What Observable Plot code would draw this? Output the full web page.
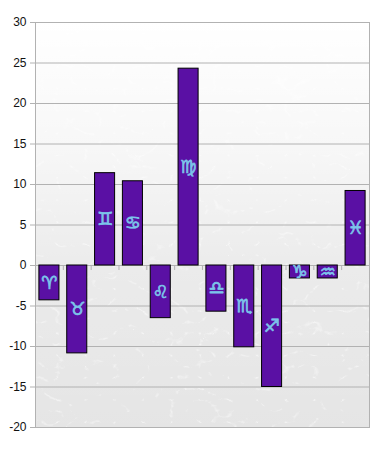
<!DOCTYPE html>
<html>
<head>
<meta charset="utf-8">
<style>html,body{margin:0;padding:0;background:#fff}svg{display:block}</style>
<script src="https://cdn.jsdelivr.net/npm/d3@7"></script>
<script src="https://cdn.jsdelivr.net/npm/@observablehq/plot@0.6"></script>
</head>
<body>
<script>
const signs = ["♈\uFE0E","♉\uFE0E","♊\uFE0E","♋\uFE0E","♌\uFE0E","♍\uFE0E","♎\uFE0E","♏\uFE0E","♐\uFE0E","♑\uFE0E","♒\uFE0E","♓\uFE0E"];
const values = [-4.3,-10.85,11.4,10.4,-6.5,24.3,-5.7,-10.1,-15,-1.6,-1.6,9.2];
const yTicks = [-20,-15,-10,-5,0,5,10,15,20,25,30];
const table = signs.map((sign,i)=>({sign,value:values[i],mid:values[i]/2}));
const grey = "#b2b2b2";

function defs(){
  const d = d3.create("svg:defs");
  const g = d.append("linearGradient").attr("id","fade").attr("x1",0).attr("y1",0).attr("x2",0).attr("y2",1);
  g.append("stop").attr("offset","0").attr("stop-color","#fff").attr("stop-opacity",1);
  g.append("stop").attr("offset","0.3").attr("stop-color","#fff").attr("stop-opacity",0.72);
  g.append("stop").attr("offset","0.62").attr("stop-color","#fff").attr("stop-opacity",0.25);
  g.append("stop").attr("offset","1").attr("stop-color","#fff").attr("stop-opacity",0.05);
  const f = d.append("filter").attr("id","veins").attr("x",0).attr("y",0).attr("width",1).attr("height",1)
    .attr("color-interpolation-filters","sRGB");
  f.append("feTurbulence").attr("type","turbulence").attr("baseFrequency","0.035 0.045").attr("numOctaves",3).attr("seed",11).attr("result","n");
  f.append("feColorMatrix").attr("in","n").attr("type","matrix")
   .attr("values","0 0 0 0 1  0 0 0 0 1  0 0 0 0 1  -8 0 0 0 1");
  f.append("feComponentTransfer").append("feFuncA").attr("type","linear").attr("slope",0.5);
  return d.node();
}
const withFilter = (i,s,v,d,c,next)=>{
  const g = next(i,s,v,d,c);
  d3.select(g).attr("filter","url(#veins)");
  return g;
};

const chart = Plot.plot({
  width:379, height:452,
  marginTop:22, marginBottom:25, marginLeft:35, marginRight:10,
  style:{background:"#fff",fontFamily:"'Liberation Sans',Arial,sans-serif",fontSize:"12px",color:"#111"},
  x:{type:"band",domain:signs,paddingInner:0.28,paddingOuter:0.14,round:false,axis:null},
  y:{domain:[-20,30],ticks:yTicks,label:null},
  marks:[
    defs,
    Plot.frame({fill:"#e4e4e4",stroke:null}),
    Plot.frame({fill:"#fff",stroke:null,render:withFilter}),
    Plot.frame({fill:"url(#fade)",stroke:null}),
    Plot.gridY(yTicks,{stroke:grey,strokeOpacity:1}),
    Plot.ruleX(signs.slice(1),{x:d=>d,y1:0,y2:-0.62,dx:-13.92,stroke:grey}),
    Plot.frame({stroke:grey,strokeWidth:1}),
    Plot.axisY(yTicks,{tickSize:5,tickPadding:4,stroke:grey,color:"#111",label:null,tickFormat:d=>String(d)}),
    Plot.barY(table,{x:"sign",y:"value",fill:"#5a10a4",stroke:"#000",strokeWidth:1}),
    Plot.text(table,{x:"sign",y:"mid",text:"sign",fill:"#7cc4ea",stroke:"#7cc4ea",strokeWidth:0.7,fontSize:18,fontFamily:"'DejaVu Sans'"})
  ]
});
document.body.appendChild(chart);
</script>
</body>
</html>
